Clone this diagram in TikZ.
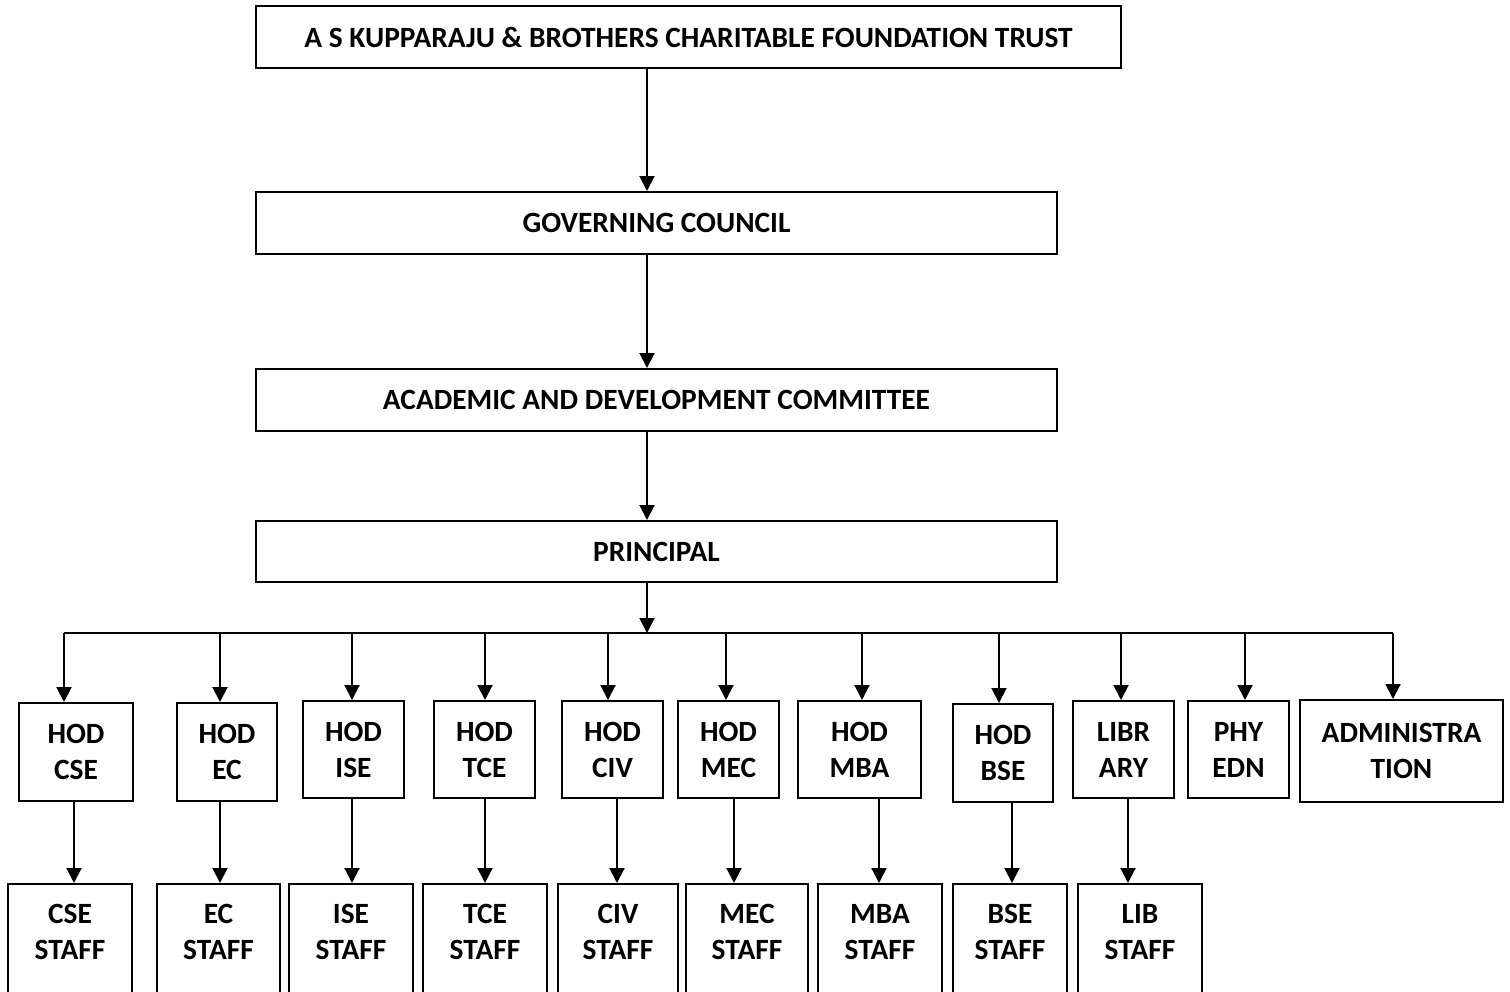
\documentclass[tikz,border=0pt]{standalone}
\usepackage{fontspec}
\setmainfont{Carlito}
\usetikzlibrary{arrows.meta}
\tikzset{
  box/.style={draw, line width=1pt, inner sep=0pt, align=center,
    font=\bfseries\fontsize{14.7}{18}\selectfont},
  wd/.style={minimum width=#1*0.5pt},
  ht/.style={minimum height=#1*0.5pt},
  staffbox/.style={box, anchor=north, inner ysep=10pt, text depth=30pt},
  arr/.style={-{Triangle[length=7.5pt,width=7.5pt]}, line width=1pt}
}

\begin{document}
\begin{tikzpicture}[x=0.5pt, y=-0.5pt]
	\useasboundingbox (0,0) rectangle (1510,991);
	\clip (0,0) rectangle (1510,991);
	% top of the chart
	\node	[box, wd=865, ht=62]	(trust)		at (688.5,37)	{A S KUPPARAJU \& BROTHERS CHARITABLE FOUNDATION TRUST};
	\node	[box, wd=801, ht=62]	(council)	at (656.5,223)	{GOVERNING COUNCIL};
	\node	[box, wd=801, ht=62]	(acad)		at (656.5,400)	{ACADEMIC AND DEVELOPMENT COMMITTEE};
	\node	[box, wd=801, ht=61]	(principal)	at (656.5,551.5)	{PRINCIPAL};
	\coordinate (spine) at (647,0);
	\coordinate (bus) at (647,633);
	\draw[arr] (trust.south -| spine) -- (council.north -| spine);
	\draw[arr] (council.south -| spine) -- (acad.north -| spine);
	\draw[arr] (acad.south -| spine) -- (principal.north -| spine);
	\draw[arr] (principal.south -| spine) -- (bus);
	\draw[line width=1pt] (64,0 |- bus) -- (1393,0 |- bus);

	% heads of departments
	\node	[box, wd=114, ht=98]	(hodcse)	at (76,752)	{HOD\\CSE};
	\node	[box, wd=100, ht=98]	(hodec)		at (227,752)	{HOD\\EC};
	\node	[box, wd=101, ht=97]	(hodise)	at (353.5,749.5)	{HOD\\ISE};
	\node	[box, wd=101, ht=97]	(hodtce)	at (484.5,749.5)	{HOD\\TCE};
	\node	[box, wd=101, ht=97]	(hodciv)	at (612.5,749.5)	{HOD\\CIV};
	\node	[box, wd=101, ht=97]	(hodmec)	at (728.5,749.5)	{HOD\\MEC};
	\node	[box, wd=123, ht=97]	(hodmba)	at (859.5,749.5)	{HOD\\MBA};
	\node	[box, wd=100, ht=98]	(hodbse)	at (1003,753)	{HOD\\BSE};
	\node	[box, wd=101, ht=97]	(library)	at (1123.5,749.5)	{LIBR\\ARY};
	\node	[box, wd=101, ht=97]	(phyedn)	at (1238.5,749.5)	{PHY\\EDN};
	\node	[box, wd=203, ht=102]	(admin)		at (1401.5,751)	{ADMINISTRA\\TION};
	\foreach \n/\ax in {hodcse/64, hodec/220, hodise/352, hodtce/485, hodciv/608,
		hodmec/726, hodmba/862, hodbse/999, library/1121, phyedn/1245, admin/1393}
		\draw[arr] (\ax,0 |- bus) -- (\ax,0 |- \n.north);

	% staff
	\node	[staffbox, wd=124]	(csestaff)	at (70,883)	{CSE\\STAFF};
	\node	[staffbox, wd=123]	(ecstaff)	at (218.5,883)	{EC\\STAFF};
	\node	[staffbox, wd=124]	(isestaff)	at (351,883)	{ISE\\STAFF};
	\node	[staffbox, wd=124]	(tcestaff)	at (485,883)	{TCE\\STAFF};
	\node	[staffbox, wd=120]	(civstaff)	at (618,883)	{CIV\\STAFF};
	\node	[staffbox, wd=122]	(mecstaff)	at (747,883)	{MEC\\STAFF};
	\node	[staffbox, wd=124]	(mbastaff)	at (880,883)	{MBA\\STAFF};
	\node	[staffbox, wd=114]	(bsestaff)	at (1010,883)	{BSE\\STAFF};
	\node	[staffbox, wd=124]	(libstaff)	at (1140,883)	{LIB\\STAFF};
	\foreach \h/\s/\dx in {hodcse/csestaff/74, hodec/ecstaff/220, hodise/isestaff/352,
		hodtce/tcestaff/485, hodciv/civstaff/617, hodmec/mecstaff/734,
		hodmba/mbastaff/879, hodbse/bsestaff/1012, library/libstaff/1128}
		\draw[arr] (\dx,0 |- \h.south) -- (\dx,0 |- \s.north);
\end{tikzpicture}
\end{document}
